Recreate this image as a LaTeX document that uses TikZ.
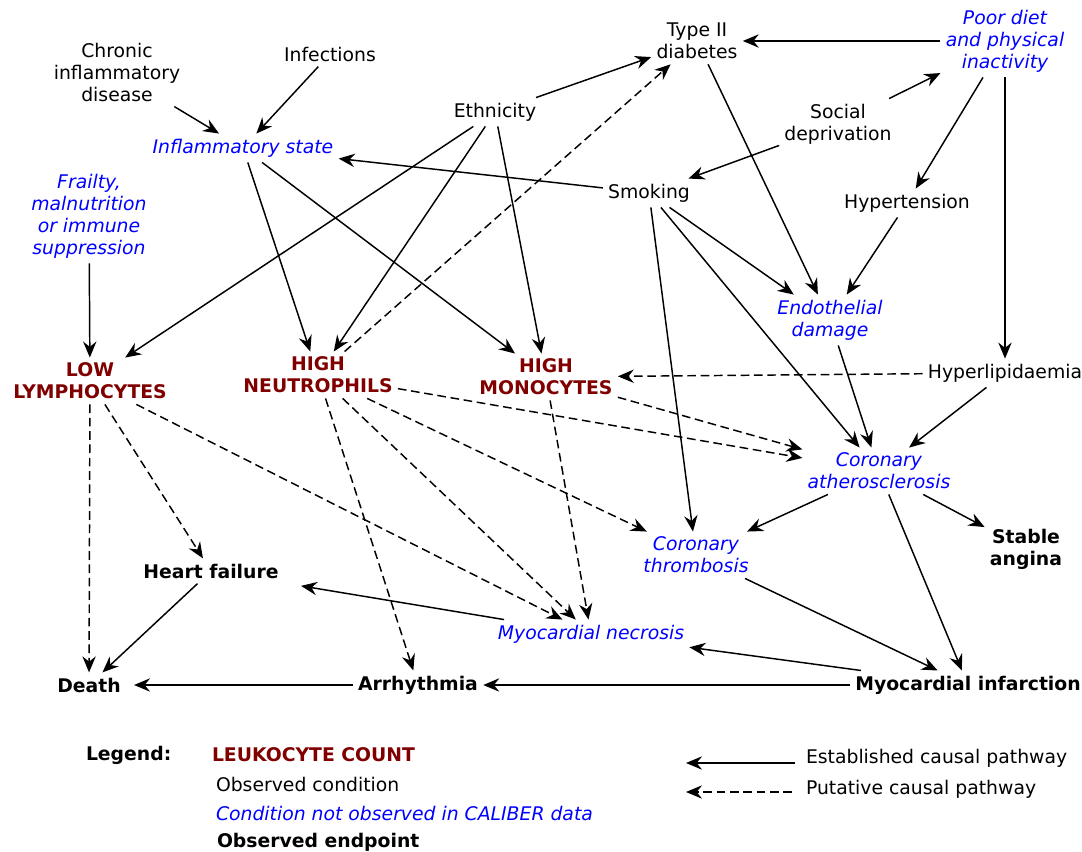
\documentclass[tikz,border=0pt]{standalone}
\usepackage{fontspec}
\setmainfont{DejaVu Sans}
\usetikzlibrary{arrows.meta}
\definecolor{leukred}{RGB}{128,0,0}
\definecolor{unobsblue}{RGB}{0,0,255}
\tikzset{
  base/.style={font=\fontsize{14.1}{16.5}\selectfont, align=center, inner sep=4pt, outer sep=0pt},
  obs/.style={base},
  unobs/.style={base, text=unobsblue, font=\fontsize{14.1}{16.5}\selectfont\itshape},
  leuk/.style={base, text=leukred, font=\fontsize{14.1}{16.5}\selectfont\bfseries},
  endp/.style={base, font=\fontsize{14.1}{16.5}\selectfont\bfseries},
  legtext/.style={base, anchor=west, inner sep=0pt, align=left},
  estab/.style={-{Stealth[length=12pt,width=10pt,inset=4pt]}, line width=1.1pt},
  putat/.style={estab, dash pattern=on 6.5pt off 3.5pt},
}
\begin{document}
\begin{tikzpicture}[x=0.75pt, y=-0.75pt]
\useasboundingbox (0,0) rectangle (1082,852);
% nodes
\node[obs] (chr) at (117,72) {Chronic\\inflammatory\\disease};
\node[obs] (inf) at (330,54) {Infections};
\node[unobs] (ist) at (243,148) {Inflammatory state};
\node[unobs] (frl) at (89,216) {Frailty,\\malnutrition\\or immune\\suppression};
\node[obs] (eth) at (495,112) {Ethnicity};
\node[obs] (t2d) at (697,41) {Type II\\diabetes};
\node[unobs] (pdi) at (1005,41) {Poor diet\\and physical\\inactivity};
\node[obs] (soc) at (838,124) {Social\\deprivation};
\node[obs] (smk) at (649,193) {Smoking};
\node[obs] (hyt) at (907,203) {Hypertension};
\node[unobs] (end) at (830,320) {Endothelial\\damage};
\node[obs] (hyl) at (1005,373) {Hyperlipidaemia};
\node[leuk] (lly) at (90,381) {LOW\\LYMPHOCYTES};
\node[leuk] (hne) at (318,375) {HIGH\\NEUTROPHILS};
\node[leuk] (hmo) at (546,377) {HIGH\\MONOCYTES};
\node[unobs] (cat) at (879,471) {Coronary\\atherosclerosis};
\node[unobs] (cth) at (696,555) {Coronary\\thrombosis};
\node[endp] (san) at (1026,549) {Stable\\angina};
\node[endp] (hfl) at (211,571) {Heart failure};
\node[unobs] (mne) at (591,634) {Myocardial necrosis};
\node[endp] (dth) at (89,685) {Death};
\node[endp] (arr) at (418,685) {Arrhythmia};
\node[endp] (mif) at (968,685) {Myocardial infarction};
% established
\draw[estab] (chr) -- (ist);
\draw[estab] (inf) -- (ist);
\draw[estab] (smk) -- (ist);
\draw[estab] (eth) -- (t2d);
\draw[estab] (eth) -- (lly);
\draw[estab] (eth) -- (hne);
\draw[estab] (eth) -- (hmo);
\draw[estab] (ist) -- (hne);
\draw[estab] (ist) -- (hmo);
\draw[estab] (pdi) -- (t2d);
\draw[estab] (soc) -- (pdi);
\draw[estab] (soc) -- (smk);
\draw[estab] (pdi) -- (hyt);
\draw[estab] (pdi) -- (hyl);
\draw[estab] (t2d) -- (end);
\draw[estab] (smk) -- (end);
\draw[estab] (hyt) -- (end);
\draw[estab] (smk) -- (cat);
\draw[estab] (smk) -- (cth);
\draw[estab] (end) -- (cat);
\draw[estab] (hyl) -- (cat);
\draw[estab] (frl) -- (lly);
\draw[estab] (cat) -- (cth);
\draw[estab] (cat) -- (san);
\draw[estab] (cat) -- (mif);
\draw[estab] (cth) -- (mif);
\draw[estab] (mif) -- (mne);
\draw[estab, shorten >=13pt] (mne) -- (hfl);
\draw[estab] (hfl) -- (dth);
\draw[estab, shorten >=6pt] (arr) -- (dth);
\draw[estab] (mif) -- (arr);
% putative
\draw[putat] (hne) -- (t2d);
\draw[putat] (hyl) -- (hmo);
\draw[putat] (hmo) -- (cat);
\draw[putat] (hne) -- (cat);
\draw[putat] (hne) -- (cth);
\draw[putat] (hne) -- (mne);
\draw[putat] (hne) -- (arr);
\draw[putat] (hmo) -- (mne);
\draw[putat] (lly) -- (mne);
\draw[putat] (lly) -- (hfl);
\draw[putat] (lly) -- (dth);
% legend
\node[legtext, font=\fontsize{14.1}{16.5}\selectfont\bfseries] (lg) at (86,755) {Legend:};
\node[legtext, text=leukred, font=\fontsize{14.1}{16.5}\selectfont\bfseries] (lg1) at (212,755) {LEUKOCYTE COUNT};
\node[legtext] (lg2) at (216,784) {Observed condition};
\node[legtext, text=unobsblue, font=\fontsize{14.1}{16.5}\selectfont\itshape] (lg3) at (216,813) {Condition not observed in CALIBER data};
\node[legtext, font=\fontsize{14.1}{16.5}\selectfont\bfseries] (lg4) at (217,842) {Observed endpoint};
\coordinate (la1) at (795,763);
\coordinate (la2) at (686,763);
\coordinate (lb1) at (792,792);
\coordinate (lb2) at (686,792);
\draw[estab] (la1) -- (la2);
\draw[putat] (lb1) -- (lb2);
\node[legtext] (lt1) at (806,758) {Established causal pathway};
\node[legtext] (lt2) at (806,789) {Putative causal pathway};
\end{tikzpicture}
\end{document}
